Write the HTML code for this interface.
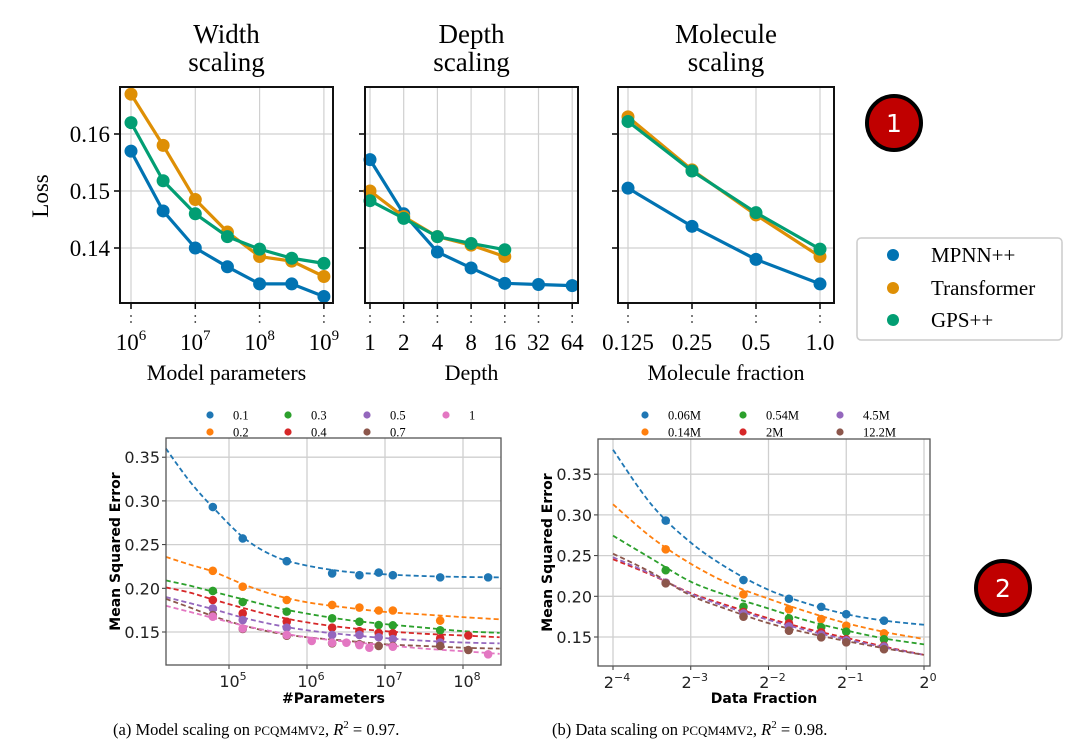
<!DOCTYPE html>
<html><head><meta charset="utf-8"><style>
html,body{margin:0;padding:0;background:#fff;}
svg{display:block;}
.serif{font-family:"Liberation Serif","DejaVu Serif",serif;}
.sans{font-family:"DejaVu Sans","Liberation Sans",sans-serif;}
</style></head><body>
<svg id="fig" width="1080" height="747" viewBox="0 0 1080 747" xmlns="http://www.w3.org/2000/svg">
  <g>
    <circle cx="894" cy="123" r="27" fill="#c00000" stroke="#000" stroke-width="4"/>
    <text x="894" y="132" text-anchor="middle" font-size="25" fill="#fff" class="sans">1</text>
  </g>
  <g>
    <circle cx="1003" cy="588" r="27" fill="#c00000" stroke="#000" stroke-width="4"/>
    <text x="1003" y="597" text-anchor="middle" font-size="25" fill="#fff" class="sans">2</text>
  </g>
  <g>
    <rect x="857" y="238" width="205" height="102" rx="4" fill="#fff" stroke="#ccc" stroke-width="1.5"/>
    <circle cx="893" cy="255" r="6" fill="#0173b2"/><text x="931" y="262" font-size="21" class="serif">MPNN++</text>
    <circle cx="893" cy="288" r="6" fill="#de8f05"/><text x="931" y="295" font-size="21" class="serif">Transformer</text>
    <circle cx="893" cy="320" r="6" fill="#029e73"/><text x="931" y="327" font-size="21" class="serif">GPS++</text>
  </g>
  <text x="113" y="735" font-size="16.5" class="serif">(a) Model scaling on <tspan font-size="13">PCQM4MV2</tspan>, <tspan font-style="italic">R</tspan><tspan dy="-7" font-size="11">2</tspan><tspan dy="7"> = 0.97.</tspan></text>
  <text x="552" y="735" font-size="16.5" class="serif">(b) Data scaling on <tspan font-size="13">PCQM4MV2</tspan>, <tspan font-style="italic">R</tspan><tspan dy="-7" font-size="11">2</tspan><tspan dy="7"> = 0.98.</tspan></text>
</svg>
<script>
// ---------- TOP PANELS DATA ----------
const topSeriesNames = ["MPNN++","Transformer","GPS++"];
const widthParams = [1e6, 3.16e6, 1e7, 3.16e7, 1e8, 3.16e8, 1e9];
const widthMPNN = [0.157, 0.1465, 0.140, 0.1367, 0.1337, 0.1337, 0.1315];
const widthTransformer = [0.167, 0.158, 0.1485, 0.1428, 0.1385, 0.1377, 0.1350];
const widthGPS = [0.162, 0.1518, 0.146, 0.142, 0.1398, 0.1382, 0.1373];
const depthValues = [1, 2, 4, 8, 16, 32, 64];
const depthMPNN = [0.1555, 0.146, 0.1393, 0.1365, 0.1338, 0.1336, 0.1334];
const depthTransformer = [0.150, 0.1455, 0.142, 0.1405, 0.1385];
const depthGPS = [0.1483, 0.1452, 0.142, 0.1408, 0.1397];
const molFractions = [0.125, 0.25, 0.5, 1.0];
const molMPNN = [0.1505, 0.1438, 0.138, 0.1337];
const molTransformer = [0.163, 0.1537, 0.1458, 0.1385];
const molGPS = [0.1622, 0.1535, 0.1462, 0.1398];
const topYTicks = [0.14, 0.15, 0.16];
const topYTickLabels = ["0.14", "0.15", "0.16"];
const widthTickExp = [6, 7, 8, 9];
const depthTickLabels = ["1","2","4","8","16","32","64"];
const molTickLabels = ["0.125","0.25","0.5","1.0"];

// ---------- BOTTOM LEFT DATA ----------
const modelSeriesLabels = ["0.1","0.2","0.3","0.4","0.5","0.7","1"];
const modelParamsStd = [6.2e4,1.5e5,5.5e5,2.1e6,4.7e6,8.3e6,1.26e7,5.1e7,1.17e8,2.1e8];
const modelX01 = [6.2e4,1.5e5,5.5e5,2.1e6,4.7e6,8.3e6,1.26e7,5.1e7,2.1e8];
const modelY01 = [0.293,0.257,0.231,0.217,0.215,0.218,0.215,0.2125,0.2125];
const modelX02 = [6.2e4,1.5e5,5.5e5,2.1e6,4.7e6,8.3e6,1.26e7,5.1e7];
const modelY02 = [0.220,0.2018,0.1866,0.181,0.178,0.1746,0.1746,0.163];
const modelX03 = [6.2e4,1.5e5,5.5e5,2.1e6,4.7e6,8.3e6,1.26e7,5.1e7];
const modelY03 = [0.197,0.1843,0.1733,0.1657,0.1618,0.158,0.1576,0.152];
const modelX04 = [6.2e4,1.5e5,5.5e5,2.1e6,4.7e6,8.3e6,1.26e7,5.1e7,1.17e8];
const modelY04 = [0.1866,0.1714,0.1618,0.155,0.151,0.149,0.1485,0.1428,0.146];
const modelX05 = [6.2e4,1.5e5,5.5e5,2.1e6,4.7e6,8.3e6,1.26e7,5.1e7];
const modelY05 = [0.177,0.1637,0.155,0.1466,0.1466,0.144,0.142,0.138];
const modelX07 = [6.2e4,1.5e5,5.5e5,2.1e6,4.7e6,8.3e6,1.26e7,5.1e7,1.17e8];
const modelY07 = [0.1694,0.1535,0.1458,0.137,0.136,0.134,0.134,0.134,0.1294];
const modelX1 = [6.2e4,1.5e5,5.5e5,1.15e6,2.1e6,3.2e6,4.7e6,6.3e6,1.26e7,2.1e8];
const modelY1 = [0.1675,0.154,0.1466,0.1397,0.1378,0.1378,0.1351,0.132,0.1332,0.1245];
const modelFitLogX = [4.19,4.5,4.8,5.2,5.6,6,6.5,7,7.5,8,8.47];
const modelFit01 = [0.360,0.322,0.292,0.257,0.236,0.226,0.219,0.216,0.214,0.213,0.2125];
const modelFit02 = [0.236,0.227,0.219,0.204,0.192,0.184,0.178,0.173,0.170,0.167,0.1645];
const modelFit03 = [0.209,0.203,0.196,0.187,0.178,0.171,0.164,0.159,0.155,0.151,0.149];
const modelFit04 = [0.201,0.195,0.187,0.177,0.168,0.161,0.155,0.151,0.148,0.146,0.144];
const modelFit05 = [0.190,0.183,0.176,0.166,0.158,0.152,0.147,0.143,0.140,0.138,0.137];
const modelFit07 = [0.188,0.178,0.168,0.157,0.149,0.144,0.140,0.136,0.134,0.132,0.131];
const modelFit1 = [0.180,0.173,0.166,0.157,0.150,0.144,0.139,0.135,0.131,0.128,0.125];
const msYTicks = [0.15,0.20,0.25,0.30,0.35];
const msYTickLabels = ["0.15","0.20","0.25","0.30","0.35"];
const modelXTickExp = [5,6,7,8];

// ---------- BOTTOM RIGHT DATA ----------
const dataSeriesLabels = ["0.06M","0.14M","0.54M","2M","4.5M","12.2M"];
const dataFractions = [0.1,0.2,0.3,0.4,0.5,0.7];
const dataY006 = [0.293,0.220,0.197,0.187,0.178,0.170];
const dataY014 = [0.2577,0.2024,0.184,0.172,0.1639,0.1545];
const dataY054 = [0.232,0.1872,0.173,0.162,0.1566,0.1472];
const dataY2 = [0.2167,0.1807,0.1668,0.1558,0.1472,0.139];
const dataY45 = [0.2167,0.179,0.163,0.153,0.146,0.1382];
const dataY122 = [0.216,0.175,0.1577,0.1496,0.1435,0.135];
const dataFitLog2X = [-4,-3.5,-3,-2.5,-2,-1.5,-1,-0.5,0];
const dataFit006 = [0.380,0.312,0.266,0.233,0.208,0.191,0.178,0.170,0.165];
const dataFit014 = [0.313,0.272,0.240,0.215,0.197,0.181,0.167,0.156,0.1475];
const dataFit054 = [0.2745,0.246,0.218,0.200,0.185,0.170,0.158,0.148,0.141];
const dataFit2 = [0.2455,0.226,0.204,0.188,0.173,0.160,0.149,0.138,0.128];
const dataFit45 = [0.248,0.227,0.203,0.186,0.171,0.158,0.147,0.137,0.128];
const dataFit122 = [0.2524,0.229,0.201,0.183,0.167,0.155,0.145,0.136,0.128];
const dataXTickExp = [-4,-3,-2,-1,0];

// ---------- DRAWING ----------
const NS = "http://www.w3.org/2000/svg";
const fig = document.getElementById("fig");
function mk(tag, attrs, parent){ const e=document.createElementNS(NS,tag); for(const k in attrs) e.setAttribute(k,attrs[k]); (parent||fig).appendChild(e); return e; }
function pathD(pts){ return pts.map((p,i)=>(i?"L":"M")+p[0].toFixed(2)+","+p[1].toFixed(2)).join(" "); }
function smoothD(pts){
  let d="M"+pts[0][0]+","+pts[0][1];
  for(let i=0;i<pts.length-1;i++){
    const p0=pts[Math.max(0,i-1)],p1=pts[i],p2=pts[i+1],p3=pts[Math.min(pts.length-1,i+2)];
    const c1=[p1[0]+(p2[0]-p0[0])/6,p1[1]+(p2[1]-p0[1])/6], c2=[p2[0]-(p3[0]-p1[0])/6,p2[1]-(p3[1]-p1[1])/6];
    d+=" C"+c1.join(",")+" "+c2.join(",")+" "+p2.join(",");
  }
  return d;
}
const topColors = ["#0173b2","#de8f05","#029e73"];
// top y scale: 0.16 at 134, 0.14 at 248
const ty = v => 134 + (0.16 - v) * 5700;
const TOP = 87, BOT = 303;

function topPanel(name, x0, x1, xs, seriesArr, xScale, tickVals, tickLabelFn, xlabel, title1, showY){
  const g = mk("g", {});
  
  
  // grid
  tickVals.forEach(v=>{ const X=xScale(v); mk("line",{x1:X,x2:X,y1:TOP,y2:BOT,stroke:"#d0d0d0","stroke-width":1.2},g);
    mk("line",{x1:X,x2:X,y1:BOT,y2:BOT+6,stroke:"#000","stroke-width":1.5},g);
    mk("line",{x1:X,x2:X,y1:BOT+12,y2:BOT+22,stroke:"#555","stroke-width":1.5,"stroke-dasharray":"2,4"},g); });
  topYTicks.forEach(v=>{ mk("line",{x1:x0,x2:x1,y1:ty(v),y2:ty(v),stroke:"#d0d0d0","stroke-width":1.2},g);
    mk("line",{x1:x0-6,x2:x0,y1:ty(v),y2:ty(v),stroke:"#000","stroke-width":1.5},g); });
  if(showY){
    topYTickLabels.forEach((l,i)=>{ const t=mk("text",{x:x0-10,y:ty(topYTicks[i])+8,"text-anchor":"end","font-size":23,class:"serif"},g); t.textContent=l;
        });
    const lt=mk("text",{x:0,y:0,"font-size":23,class:"serif","text-anchor":"middle",transform:"translate(48,196) rotate(-90)"},g); lt.textContent="Loss";
     
  }
  seriesArr.forEach((ys,si)=>{
    const pts = ys.map((v,i)=>[xScale(xs[i]), ty(v)]);
    const ln=mk("path",{d:pathD(pts),fill:"none",stroke:topColors[si],"stroke-width":3.2,"stroke-linejoin":"round"},g);
    
    
    pts.forEach(p=>{ const c=mk("circle",{cx:p[0],cy:p[1],r:6.5,fill:topColors[si]},g);
        });
  });
  mk("rect",{x:x0,y:TOP,width:x1-x0,height:BOT-TOP,fill:"none",stroke:"#111","stroke-width":2},g);
  tickVals.forEach((v,i)=>{ tickLabelFn(g, xScale(v), i); });
  const cx=(x0+x1)/2;
  const xl=mk("text",{x:cx,y:380,"text-anchor":"middle","font-size":22,class:"serif"},g); xl.textContent=xlabel;
   
  const t1=mk("text",{x:cx,y:43,"text-anchor":"middle","font-size":27,class:"serif"},g); t1.textContent=title1;
   
  const t2=mk("text",{x:cx,y:71,"text-anchor":"middle","font-size":27,class:"serif"},g); t2.textContent="scaling";
   
}
const wx = v => 131 + (Math.log10(v) - 6) * 64.3;
topPanel("width-scaling",120,333,widthParams,[widthMPNN,widthTransformer,widthGPS],wx,
  widthTickExp.map(e=>Math.pow(10,e)),
  (g,X,i)=>{ const t=mk("text",{x:X,y:350,"text-anchor":"middle","font-size":23,class:"serif"},g);
    t.innerHTML='10<tspan dy="-10" font-size="15">'+widthTickExp[i]+'</tspan>';
      },
  "Model parameters","Width",true);
const dx = v => 370 + Math.log2(v) * 33.7;
topPanel("depth-scaling",365,578,depthValues,[depthMPNN,depthTransformer,depthGPS],dx,depthValues,
  (g,X,i)=>{ const t=mk("text",{x:X,y:350,"text-anchor":"middle","font-size":23,class:"serif"},g); t.textContent=depthTickLabels[i];
      },
  "Depth","Depth",false);
const mx = v => 820 + Math.log2(v) * 64;
topPanel("molecule-scaling",618,834,molFractions,[molMPNN,molTransformer,molGPS],mx,molFractions,
  (g,X,i)=>{ const t=mk("text",{x:X,y:350,"text-anchor":"middle","font-size":23,class:"serif"},g); t.textContent=molTickLabels[i];
      },
  "Molecule fraction","Molecule",false);

// ---------- bottom panels ----------
const tab = ["#1f77b4","#ff7f0e","#2ca02c","#d62728","#9467bd","#8c564b","#e377c2"];
function bottomPanel(cfg){
  const g = mk("g",{});
  
  
  const {x0,x1,y0,y1,ys,xs}=cfg;
  cfg.xticks.forEach(v=>{ const X=xs(v); mk("line",{x1:X,x2:X,y1:y0,y2:y1,stroke:"#cfcfcf","stroke-width":1.3},g);
    mk("line",{x1:X,x2:X,y1:y1,y2:y1+4,stroke:"#333","stroke-width":1},g); });
  msYTicks.forEach(v=>{ const Y=ys(v); mk("line",{x1:x0,x2:x1,y1:Y,y2:Y,stroke:"#cfcfcf","stroke-width":1.3},g);
    mk("line",{x1:x0-4,x2:x0,y1:Y,y2:Y,stroke:"#333","stroke-width":1},g);
    const t=mk("text",{x:x0-6,y:Y+6,"text-anchor":"end","font-size":16,class:"sans",fill:"#222"},g); t.textContent=msYTickLabels[msYTicks.indexOf(v)];
      });
  cfg.fits.forEach((f,si)=>{
    const pts=f.map((v,i)=>[+cfg.fitX(i).toFixed(2), +ys(v).toFixed(2)]);
    const p=mk("path",{d:smoothD(pts),fill:"none",stroke:tab[si],"stroke-width":1.8,"stroke-dasharray":"5,3"},g);
     
  });
  cfg.points.forEach((s,si)=>{
    s[1].forEach((v,i)=>{ const c=mk("circle",{cx:xs(s[0][i]),cy:ys(v),r:4.3,fill:tab[si]},g);
        });
  });
  mk("rect",{x:x0,y:y0,width:x1-x0,height:y1-y0,fill:"none",stroke:"#555","stroke-width":1.3},g);
  cfg.xticks.forEach((v,i)=>{ const t=mk("text",{x:xs(v)+4,y:y1+22,"text-anchor":"middle","font-size":16,class:"sans",fill:"#222"},g);
    t.innerHTML=cfg.tickText(i);   });
  const xl=mk("text",{x:(x0+x1)/2,y:703,"text-anchor":"middle","font-size":14,"font-weight":"bold",class:"sans"},g); xl.textContent=cfg.xlabel;
   
  const yl=mk("text",{x:0,y:0,"text-anchor":"middle","font-size":14,"font-weight":"bold",class:"sans",transform:"translate("+cfg.ylx+","+((y0+y1)/2)+") rotate(-90)"},g); yl.textContent="Mean Squared Error";
   
  // legend
  cfg.labels.forEach((l,i)=>{ const col=Math.floor(i/2), row=i%2;
    const lx=cfg.legX[col], ly=415+row*17;
    const c=mk("circle",{cx:lx,cy:ly,r:3.6,fill:tab[i]},g);  
    const t=mk("text",{x:lx+23,y:ly+4.5,"font-size":12.5,class:"serif"},g); t.textContent=l;
      });
}
const lys = v => 632 - (v - 0.15) * 874;
const lxs = v => 229 + (Math.log10(v) - 5) * 78;
bottomPanel({name:"model-scaling-chart",x0:166,x1:501,y0:438,y1:665,ys:lys,xs:lxs,
  xticks:modelXTickExp.map(e=>Math.pow(10,e)),
  tickText:i=>'10<tspan dy="-7" font-size="11">'+modelXTickExp[i]+'</tspan>',
  fits:[modelFit01,modelFit02,modelFit03,modelFit04,modelFit05,modelFit07,modelFit1],
  fitX:i=>lxs(Math.pow(10,modelFitLogX[i])),
  points:[[modelX01,modelY01],[modelX02,modelY02],[modelX03,modelY03],[modelX04,modelY04],[modelX05,modelY05],[modelX07,modelY07],[modelX1,modelY1]],
  labels:modelSeriesLabels,xlabel:"#Parameters",ylx:120,legX:[210,288,367,446]});
const rys = v => 637 - (v - 0.15) * 814;
const rxs = v => 613 + (Math.log2(v) + 4) * 77.75;
bottomPanel({name:"data-scaling-chart",x0:598,x1:930,y0:439,y1:666,ys:rys,xs:rxs,
  xticks:dataXTickExp.map(e=>Math.pow(2,e)),
  tickText:i=>'2<tspan dy="-7" font-size="11">'+(dataXTickExp[i]<0?'\u2212'+(-dataXTickExp[i]):dataXTickExp[i])+'</tspan>',
  fits:[dataFit006,dataFit014,dataFit054,dataFit2,dataFit45,dataFit122],
  fitX:i=>rxs(Math.pow(2,dataFitLog2X[i])),
  points:[[dataFractions,dataY006],[dataFractions,dataY014],[dataFractions,dataY054],[dataFractions,dataY2],[dataFractions,dataY45],[dataFractions,dataY122]],
  labels:dataSeriesLabels,xlabel:"Data Fraction",ylx:552,legX:[645,743,840]});
</script>
</body></html>
